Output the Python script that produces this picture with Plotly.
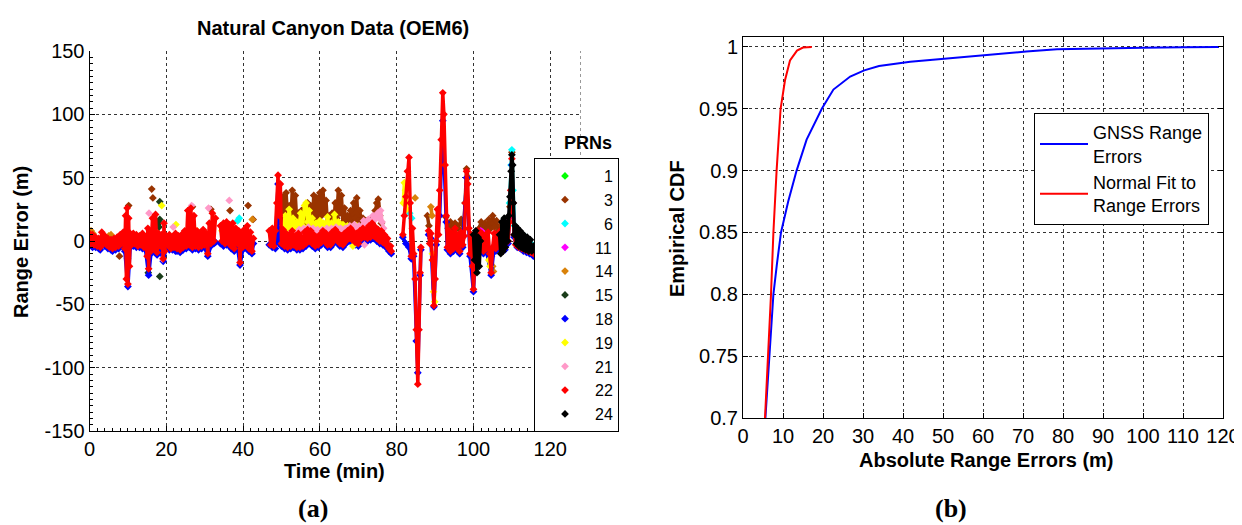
import plotly.graph_objects as go

# the page body keeps its default 8 px margin, so the figure starts 8 px in;
# it is sized to reach the window's right and bottom edges
PAGE_PAD = 8
W, H = 1242 - PAGE_PAD, 525 - PAGE_PAD

# ---- panel (a): range error (m) vs time (min) per PRN ----
# None breaks a series where the receiver had no data
prn_1 = [(56.0, 2), (56.4, 1)]

prn_3 = [(7.8, -12), None, (9.9, -14), (10.0, -6), None, (10.2, 28), None,
         (16.2, 41), None, (16.5, 34), None, (26.8, 27), None, (31.6, 25), None,
         (36.6, 24), None, (41.3, 28), None, (42.6, 17), None,
         (50.0, 15), (50.4, 35), (50.8, 20), (51.2, 38), (51.6, 18), (52.0, 28),
         (52.4, 12), (52.8, 40), (53.2, 20), (53.6, 36), (54.0, 14), (54.4, 22),
         (54.8, 10), (55.2, 24), (55.6, 12), (56.0, 26), (56.4, 14), (56.8, 30),
         (57.2, 15), (57.6, 28), (58.0, 12), (58.4, 36), (58.8, 18), (59.2, 34),
         (59.6, 14), (60.0, 38), (60.4, 20), (60.8, 40), (61.2, 22), (61.6, 32),
         (62.0, 12), (62.4, 20), (62.8, 10), (63.2, 22), (63.6, 12), (64.0, 30),
         (64.4, 18), (64.8, 40), (65.2, 22), (65.6, 36), (66.0, 15), (66.4, 26),
         (66.8, 12), (67.2, 20), (67.6, 10), (68.0, 24), (68.4, 14), (68.8, 30),
         (69.2, 18), (69.6, 34), (70.0, 16), (70.4, 24), (70.8, 12), (71.2, 18),
         (71.6, 10), (72.0, 16), (72.4, 12), (72.8, 14), (73.2, 10), (73.6, 18),
         (74.0, 12), (74.4, 24), (74.8, 30), (75.2, 33), (75.6, 20), (76.0, 14), None,
         (88.0, 20), (88.4, 12), None,
         (92.8, 19), (93.4, 10), (94.0, 15), (94.6, 8), (95.2, 14), (96.0, 10),
         (96.8, 17), (97.4, 9), (97.8, 30), (98.2, 57), (98.6, 50), None,
         (101.5, 10), (102.0, 15), (102.5, 8), (103.0, 14), (103.5, 9), (104.0, 17),
         (104.5, 10), (105.0, 20), (105.5, 11), (106.0, 16), (106.5, 8), (107.0, 12), None,
         (109.5, 27), (110.0, 70)]

prn_6 = [(14.4, 1), None, (38.6, 16), (39.0, 18), None, (83.4, 22), (83.9, 18), None,
         (109.4, 30), (109.8, 60), (110.0, 72), (110.3, 40), (110.7, 12), (111.3, 9),
         (112.0, 7), (112.8, 5), (113.6, 3), (114.4, 1), (115.0, -2), (115.6, -5)]

prn_11 = [(101.9, 8), (102.4, 7), None, (109.2, 18), (109.6, 20)]

prn_14 = [(0.0, 7), (0.4, 8), (0.9, 6), None, (5.0, 4), (5.6, 5), None, (42.4, 17), None,
          (84.8, 34), None, (88.9, 27), (89.2, 20), None,
          (104.7, -12), (105.0, -20), (105.2, -24)]

prn_15 = [(14.4, 3), None, (15.3, -25), None, (17.9, 15), (18.1, 11), (18.3, 17), None,
          (18.3, 31), None, (18.3, -28)]

prn_18 = [(0.0, -3), (0.8, -5), (1.6, -5), (2.4, -6), (2.8, -7), (3.2, -4), (4.0, -4),
          (4.8, -6), (5.6, -7), (6.0, -8), (6.8, -7), (7.6, -6), (8.4, -4), (9.2, -8),
          (10.0, -36), (10.6, -5), (11.4, -4), (12.2, -5), (13.0, -5), (13.8, -6),
          (14.6, -7), (15.4, -27), (16.0, -10), (16.8, -8), (17.6, -11), (18.4, -6),
          (19.2, -16), (20.0, -5), (20.8, -7), (21.6, -7), (22.4, -8), (22.8, -8),
          (23.6, -9), (24.4, -7), (25.2, -6), (26.0, -5), (26.8, -7), (27.6, -6),
          (28.4, -7), (29.2, -6), (30.0, -5), (30.8, -12), (31.6, -4), (32.4, -2),
          (32.8, -1), None,
          (34.1, -2), (34.9, -4), (35.7, -3), (36.9, -6), (37.7, -8), (38.5, -4),
          (39.2, -19), (39.9, -7), (40.7, -5), (41.5, -8), (42.3, -10), (42.7, -2), None,
          (46.8, -3), (47.6, -5), (48.4, -6), (49.1, 45), (49.4, -2), (50.0, -4),
          (50.8, -6), (51.6, -7), (52.4, -6), (53.2, -5), (54.0, -7), (54.8, -7),
          (55.6, -6), (56.4, -4), (57.2, -2), (58.0, -4), (58.8, -6), (59.6, -5),
          (60.4, -3), (61.2, -2), (62.0, -5), (62.8, -5), (63.6, -2), (64.4, -1),
          (65.2, -4), (66.0, -5), (66.8, -2), (67.6, 0), (68.4, -1), (69.2, -3),
          (70.0, -4), (70.8, 0), (71.6, 1), (72.4, 0), (73.2, 1), (74.0, 2),
          (74.8, 0), (75.6, -2), (76.4, -3), (77.2, -5), (78.0, -8), (78.6, -10), None,
          (81.6, 3), (82.4, -2), (83.2, -5), (83.8, -14), (84.4, -12), (85.1, -79),
          (85.5, -104), (86.1, -27), (86.3, -7), None,
          (88.3, 5), (88.9, 2), (89.7, -52), (90.3, -3), (91.2, 20), (92.0, 95),
          (92.9, 15), (93.2, -7), (94.0, -10), (94.8, -8), (95.6, -7), (96.4, -10),
          (97.2, -5), (98.2, 50), (99.1, -12), (100.0, -40), (100.6, 0), (101.0, -6),
          (101.8, -8), (102.6, -10), (103.4, -8), (104.6, -27), (105.4, -4),
          (105.8, -8), (106.6, -6), (107.4, -5), (108.2, -7), (109.0, -2),
          (110.0, 60), (110.6, 3), (111.4, -5), (112.2, -6), (113.0, -8),
          (113.8, -9), (114.6, -10), (115.6, -12)]

prn_19 = [(10.3, 5), None, (17.0, 8), (17.2, 4), None, (18.8, 28), None, (22.5, 13), None,
          (28.0, 8), None, (34.5, 8), None,
          (50.5, 12), (51.0, 20), (51.5, 10), (52.0, 25), (52.5, 12), (53.0, 18),
          (53.5, 8), (54.0, 15), (54.5, 10), (55.0, 22), (55.5, 12), (56.0, 28),
          (56.4, 30), (56.8, 15), (57.2, 24), (57.6, 12), (58.0, 18), (58.5, 9),
          (59.0, 14), (59.5, 10), (60.0, 16), (60.5, 9), (61.0, 14), (61.5, 10),
          (62.0, 19), (62.5, 10), (63.0, 14), (63.5, 9), (63.8, 21), (64.2, 12),
          (64.8, 15), (65.4, 9), (66.0, 13), (66.6, 8), (67.2, 12), (67.8, 8),
          (68.4, 11), (69.0, 8), (69.6, 12), (70.2, 7), (70.8, 10), (71.4, 7),
          (72.0, 9), None, (68.6, -4), None,
          (81.7, 30), (82.0, 46), (82.3, 40), (82.6, 25), None,
          (89.3, -10), (89.6, -40), (89.9, -48), None, (104.0, -15), (104.3, -20)]

prn_21 = [(15.5, 22), None, (19.0, -14), None, (21.8, 11), None, (26.6, 28), None,
          (31.0, 26), None, (36.4, 32), None,
          (54.0, 6), (54.6, 9), (55.2, 6), (55.8, 10), (56.4, 7), (57.0, 11),
          (57.6, 8), (58.2, 10), (58.8, 7), (59.4, 9), (60.0, 6), (60.6, 9),
          (61.2, 7), (61.8, 10), (62.4, 8), (63.0, 10), (63.6, 8), (64.2, 11),
          (64.8, 9), (65.4, 10), (66.0, 7), (66.6, 10), (67.2, 9), (67.8, 12),
          (68.4, 10), (69.0, 13), (69.6, 10), (70.2, 12), (70.8, 11), (71.4, 16),
          (72.0, 13), (72.6, 17), (73.2, 14), (73.8, 20), (74.4, 17), (75.0, 22),
          (75.4, 18), (75.8, 24), (76.2, 15), (76.6, 10), None, (71.6, -3)]

prn_22 = [(0.0, 6), (0.4, -2), (0.8, 5), (1.2, -3), (1.6, 3), (2.0, -4), (2.4, 2),
          (2.8, -5), (3.2, 7), (3.6, -2), (4.0, 4), (4.4, -3), (4.8, 2), (5.2, -5),
          (5.6, 1), (6.0, -6), (6.4, 2), (6.8, -5), (7.2, 3), (7.6, -4), (8.0, 5),
          (8.4, -2), (8.8, 7), (9.2, -6), (9.4, 20), (9.6, -30), (9.8, 26),
          (10.0, -34), (10.2, 18), (10.4, -20), (10.6, 6), (11.0, -3), (11.4, 6),
          (11.8, -2), (12.2, 5), (12.6, -4), (13.0, 4), (13.4, -3), (13.8, 6),
          (14.2, -5), (14.6, 3), (15.0, -12), (15.2, 10), (15.4, -22), (15.6, 8),
          (16.0, -8), (16.4, 18), (16.8, -6), (17.2, 21), (17.6, -9), (18.0, 6),
          (18.4, -4), (18.8, 5), (19.2, -14), (19.4, 14), (19.6, -8), (20.0, 4),
          (20.4, -3), (20.8, 5), (21.2, -6), (21.6, 3), (22.0, -5), (22.4, 6),
          (22.8, -6), (23.2, 4), (23.6, -7), (24.0, 5), (24.4, -5), (24.8, 8),
          (25.2, -4), (25.6, 24), (26.0, -3), (26.4, 26), (26.8, -5), (27.2, 20),
          (27.6, -4), (28.0, 8), (28.4, -5), (28.8, 6), (29.2, -4), (29.6, 9),
          (30.0, -3), (30.4, 6), (30.8, -10), (31.2, 14), (31.6, -2), (32.0, 22),
          (32.4, 0), (32.8, 18), None,
          (34.1, 12), (34.5, 0), (34.9, 14), (35.3, -2), (35.7, 15), (36.1, -1),
          (36.5, 13), (36.9, -4), (37.3, 14), (37.7, -6), (38.1, 10), (38.5, -2),
          (38.9, 8), (39.2, -17), (39.5, 6), (39.9, -5), (40.3, 9), (40.7, -3),
          (41.1, 12), (41.5, -6), (41.9, 7), (42.3, -8), (42.7, 2), None,
          (46.8, 8), (47.2, -3), (47.6, 10), (48.0, -4), (48.4, 8), (48.8, 30),
          (49.1, 52), (49.4, 20), (49.7, 45), (50.0, -2), (50.4, 9), (50.8, -4),
          (51.2, 6), (51.6, -5), (52.0, 5), (52.4, -4), (52.8, 8), (53.2, -3),
          (53.6, 4), (54.0, -5), (54.4, 6), (54.8, -5), (55.2, 3), (55.6, -4),
          (56.0, 7), (56.4, -2), (56.8, 9), (57.2, 0), (57.6, 8), (58.0, -2),
          (58.4, 5), (58.8, -4), (59.2, 3), (59.6, -3), (60.0, 5), (60.4, -1),
          (60.8, 8), (61.2, 0), (61.6, 6), (62.0, -3), (62.4, 4), (62.8, -3),
          (63.2, 7), (63.6, 0), (64.0, 9), (64.4, 1), (64.8, 6), (65.2, -2),
          (65.6, 4), (66.0, -3), (66.4, 6), (66.8, 0), (67.2, 8), (67.6, 2),
          (68.0, 10), (68.4, 1), (68.8, 7), (69.2, -1), (69.6, 6), (70.0, -2),
          (70.4, 8), (70.8, 2), (71.2, 10), (71.6, 3), (72.0, 9), (72.4, 2),
          (72.8, 12), (73.2, 3), (73.6, 14), (74.0, 4), (74.4, 11), (74.8, 2),
          (75.2, 9), (75.6, 0), (76.0, 8), (76.4, -1), (76.8, 5), (77.2, -3),
          (77.6, 2), (78.0, -6), (78.4, -4), (78.6, -8), None,
          (81.6, 5), (82.0, 20), (82.4, 35), (82.8, 55), (83.2, 66), (83.5, 30),
          (83.8, -12), (84.1, 10), (84.4, -10), (84.8, -30), (85.1, -70),
          (85.5, -113), (85.8, -70), (86.1, -25), (86.3, -5), None,
          (88.3, 8), (88.6, -2), (88.9, 6), (89.3, -15), (89.7, -51), (90.0, -30),
          (90.3, 0), (90.6, 25), (90.9, 5), (91.2, 40), (91.6, 80), (92.0, 117),
          (92.3, 100), (92.6, 60), (92.9, 20), (93.2, -5), (93.6, 8), (94.0, -8),
          (94.4, 6), (94.8, -6), (95.2, 10), (95.6, -5), (96.0, 5), (96.4, -8),
          (96.8, 7), (97.2, -3), (97.6, 4), (97.9, 30), (98.2, 55), (98.5, 45),
          (98.8, 10), (99.1, -10), (99.4, 5), (99.7, -20), (100.0, -38),
          (100.3, -20), (100.6, 2), (101.0, -4), (101.4, 8), (101.8, -6),
          (102.2, 6), (102.6, -8), (103.0, 4), (103.4, -6), (103.8, 7),
          (104.2, -10), (104.6, -25), (105.0, -5), (105.4, 6), (105.8, -6),
          (106.2, 5), (106.6, -4), (107.0, 8), (107.4, -3), (107.8, 5),
          (108.2, -5), (108.6, 10), (109.0, 0), (109.4, 15), (109.7, 40),
          (110.0, 65), (110.3, 30), (110.6, 5), (111.0, -3), (111.4, 2),
          (111.8, -5), (112.2, 1), (112.6, -6), (113.0, 0), (113.4, -7),
          (113.8, -1), (114.2, -8), (114.6, -3), (115.0, -9), (115.3, -5),
          (115.6, -10)]

prn_24 = [(100.0, 5), (100.3, -15), (100.6, 8), (100.9, -25), (101.2, 3),
          (101.5, -20), (101.8, 0), None,
          (106.8, 5), (107.1, -10), (107.4, 15), (107.7, -8), (108.0, 18),
          (108.3, -5), (108.6, 14), (108.9, 0), (109.2, 20), (109.5, 35),
          (109.8, 55), (110.0, 68), (110.2, 60), (110.4, 30), (110.6, 5),
          (110.9, 12), (111.2, -2), (111.5, 10), (111.8, -4), (112.1, 8),
          (112.4, -5), (112.7, 6), (113.0, -6), (113.3, 4), (113.6, -7),
          (114.0, 3), (114.4, -8), (114.8, 1), (115.2, -8), (115.6, -4)]

prn_labels = ["1", "3", "6", "11", "14", "15", "18", "19", "21", "22", "24"]
prn_data = [prn_1, prn_3, prn_6, prn_11, prn_14, prn_15, prn_18, prn_19,
            prn_21, prn_22, prn_24]
prn_colors = ["#00ff00", "#993300", "#00ffff", "#ff00ff", "#d9820a", "#1a3d1a",
              "#0000ff", "#ffff00", "#ff99c8", "#ff0000", "#000000"]

err_ticks = [-150, -100, -50, 0, 50, 100, 150]
time_ticks = [0, 20, 40, 60, 80, 100, 120]

# ---- panel (b): empirical CDF of absolute range errors ----
gnss_err = [5.6, 6.1, 6.75, 7.2, 7.6, 8.5, 9.5, 11.3, 13.4, 15.9, 19.7, 22.6,
            26.8, 30.3, 34.0, 41.8, 51.5, 61.0, 70.8, 78.5, 90.0, 100.0, 110.0, 119.0]
gnss_cdf = [0.700, 0.725, 0.750, 0.775, 0.800, 0.825, 0.850, 0.875, 0.900, 0.925,
            0.950, 0.9655, 0.976, 0.981, 0.9846, 0.988, 0.9909, 0.9935, 0.9962,
            0.998, 0.999, 0.9993, 0.9997, 1.0]
fit_err = [5.5, 6.3, 7.0, 7.6, 8.4, 9.4, 10.5, 11.75, 13.5, 15.0, 17.2]
fit_cdf = [0.70, 0.75, 0.80, 0.85, 0.90, 0.95, 0.973, 0.989, 0.997, 0.9995, 1.0]

cdf_ticks = [0.7, 0.75, 0.8, 0.85, 0.9, 0.95, 1.0]
cdf_labels = ["0.7", "0.75", "0.8", "0.85", "0.9", "0.95", "1"]

FONT = "Liberation Sans, Arial, sans-serif"


def px_x(p):
    # window pixel -> paper fraction
    return (p - PAGE_PAD) / W


def px_y(p):
    return 1 - (p - PAGE_PAD) / H


def unzip(pairs):
    xs = [p[0] if p else None for p in pairs]
    ys = [p[1] if p else None for p in pairs]
    return xs, ys


fig = go.Figure()

for lab, pairs, col in zip(prn_labels, prn_data, prn_colors):
    xs, ys = unzip(pairs)
    fig.add_trace(go.Scatter(x=xs, y=ys, mode="lines", line=dict(color=col, width=3.5),
                             xaxis="x", yaxis="y", legendgroup=lab, showlegend=False,
                             hoverinfo="skip"))
    fig.add_trace(go.Scatter(x=xs, y=ys, mode="markers", name="\u2007" * (2 - len(lab)) + lab,
                             marker=dict(symbol="diamond", size=6, color=col),
                             xaxis="x", yaxis="y", legendgroup=lab, legend="legend"))

fig.add_trace(go.Scatter(x=gnss_err, y=gnss_cdf, mode="lines", name="GNSS Range<br>Errors",
                         line=dict(color="#0000ff", width=2), xaxis="x2", yaxis="y2",
                         legend="legend2"))
fig.add_trace(go.Scatter(x=fit_err, y=fit_cdf, mode="lines",
                         name="Normal Fit to<br>Range Errors",
                         line=dict(color="#ff0000", width=2), xaxis="x2", yaxis="y2",
                         legend="legend2"))

grid = dict(showgrid=True, gridcolor="rgba(0,0,0,0.8)", griddash="dot", gridwidth=1,
            zeroline=False, showline=True, linecolor="black", linewidth=1,
            ticks="inside", ticklen=5, tickcolor="black", automargin=False,
            tickfont=dict(family=FONT, size=20, color="black"))

fig.update_layout(
    width=W, height=H, autosize=False,
    margin=dict(l=0, r=0, t=0, b=0, pad=0),
    paper_bgcolor="white", plot_bgcolor="white",
    font=dict(family=FONT, color="black"),
    xaxis=dict(domain=[px_x(89.5), px_x(581)], range=[0, 128], tickmode="array",
               tickvals=time_ticks, anchor="y",
               minor=dict(tickmode="linear", tick0=0, dtick=2, ticks="inside",
                          ticklen=3, tickcolor="black", showgrid=False), **grid),
    yaxis=dict(domain=[px_y(431), px_y(51)], range=[-150, 150], tickmode="array",
               tickvals=err_ticks, ticktext=[str(v) for v in err_ticks], anchor="x",
               minor=dict(tickmode="linear", tick0=0, dtick=5, ticks="inside",
                          ticklen=3, tickcolor="black", showgrid=False), **grid),
    xaxis2=dict(domain=[px_x(743), px_x(1223)], range=[0, 120], dtick=10, tick0=0,
                anchor="y2", mirror="ticks", **grid),
    yaxis2=dict(domain=[px_y(418), px_y(37)], range=[0.7, 1.008], tickmode="array",
                tickvals=cdf_ticks, ticktext=cdf_labels, anchor="x2", mirror="ticks",
                **grid),
    legend=dict(x=px_x(534), y=px_y(158), xanchor="left", yanchor="top",
                bgcolor="white", bordercolor="black", borderwidth=1,
                font=dict(family=FONT, size=16, color="black"),
                itemwidth=50, tracegroupgap=0),
    legend2=dict(x=px_x(1034), y=px_y(113), xanchor="left", yanchor="top",
                 bgcolor="white", bordercolor="black", borderwidth=1,
                 font=dict(family=FONT, size=18, color="black"),
                 itemwidth=48, tracegroupgap=0),
    showlegend=True,
)

# panel (a) has no box: the right edge is dotted like the grid
fig.add_shape(type="line", xref="x", yref="y", x0=128, x1=128, y0=-150, y1=150,
              line=dict(color="rgba(0,0,0,0.8)", width=1, dash="dot"))

ann = [
    dict(text="<b>Natural Canyon Data (OEM6)</b>", x=333, y=28, size=20),
    dict(text="<b>Time (min)</b>", x=334, y=471, size=20),
    dict(text="<b>Range Error (m)</b>", x=21, y=242, size=20, angle=-90),
    dict(text="<b>PRNs</b>", x=588, y=143, size=18),
    dict(text="<b>Absolute Range Errors (m)</b>", x=986, y=460, size=20),
    dict(text="<b>Empirical CDF</b>", x=677, y=229, size=20, angle=-90),
]
for a in ann:
    fig.add_annotation(text=a["text"], x=px_x(a["x"]), y=px_y(a["y"]),
                       xref="paper", yref="paper", xanchor="center", yanchor="middle",
                       showarrow=False, textangle=a.get("angle", 0),
                       font=dict(family=FONT, size=a["size"], color="black"))

for txt, cx in [("(a)", 313), ("(b)", 951)]:
    fig.add_annotation(text="<b>" + txt + "</b>", x=px_x(cx), y=px_y(508),
                       xref="paper", yref="paper", xanchor="center", yanchor="middle",
                       showarrow=False,
                       font=dict(family="Liberation Serif, Times New Roman, serif",
                                 size=26, color="black"))

fig.write_html("out.html")
